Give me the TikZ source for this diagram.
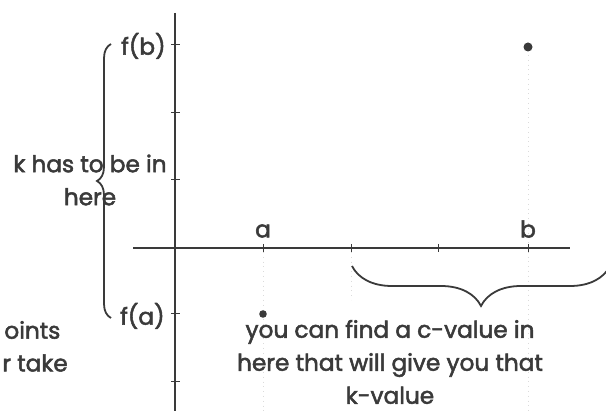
\documentclass[tikz,border=0pt]{standalone}
\usepackage{fontspec}
\setmainfont{Poppins}[FakeBold=2.2]
\usetikzlibrary{decorations.pathreplacing,calc,positioning}
\definecolor{inkgray}{RGB}{58,58,58}

\begin{document}
\begin{tikzpicture}[x=0.5pt,y=-0.5pt,
    axis/.style={draw=inkgray,line width=1.1pt},
    tickmark/.style={draw=inkgray,line width=0.5pt},
    faint/.style={draw=black!14,dotted,line width=0.4pt},
    lbl/.style={font=\fontsize{11.6}{16.5}\selectfont,text=inkgray,inner sep=1pt},
    dot/.style={circle,fill=inkgray,inner sep=0pt,minimum size=4.5pt},
    curly/.style={draw=inkgray,line width=0.9pt,decorate}
  ]
  \useasboundingbox (0,0) rectangle (606,411);
  % faint guide lines
  \draw[faint] (263,252) -- (263,411);
  \draw[faint] (528,55) -- (528,411);
  \draw[faint] (351,252) -- (351,300);
  % axes
  \coordinate (ytop) at (175,13);
  \coordinate (ybot) at (175,411);
  \coordinate (xleft) at (133,248);
  \coordinate (xright) at (570,248);
  \draw[axis] (ytop) -- (ybot);
  \draw[axis] (xleft) -- (xright);
  \foreach \yy in {45,113,180,314,382}
    \draw[tickmark] (171,\yy) -- (180,\yy);
  \foreach \xx in {263,351,438,528}
    \draw[tickmark] (\xx,244) -- (\xx,252);
  % points
  \node[dot] (pb) at (528,47) {};
  \node[dot,minimum size=3.8pt] (pa) at (263,314) {};
  % labels
  \node[lbl,anchor=east] (fb) at (168,46) {f(b)};
  \node[lbl,anchor=east] (fa) at (167,316) {f(a)};
  \node[lbl] (la) at (263,231) {a};
  \node[lbl] (lb) at (528,229) {b};
  \node[lbl,align=center] (khere) at (90,180) {k has to be in\\here};
  \node[lbl,align=center] (cval) at (390,362)
    {you can find a c-value in\\here that will give you that\\k-value};
  \node[lbl,anchor=west] (cut1) at (2,330) {oints};
  \node[lbl,anchor=west] (cut2) at (0,363) {r take};
  % braces
  \coordinate (kb1) at (111,318);
  \coordinate (kb2) at (111,44);
  \draw[curly,decoration={brace,amplitude=7pt}] (kb1) -- (kb2);
  \coordinate (cb1) at (352,266);
  \coordinate (cb2) at (610,266);
  \draw[curly,decoration={brace,amplitude=20pt,mirror}] (cb1) -- (cb2);
\end{tikzpicture}
\end{document}
